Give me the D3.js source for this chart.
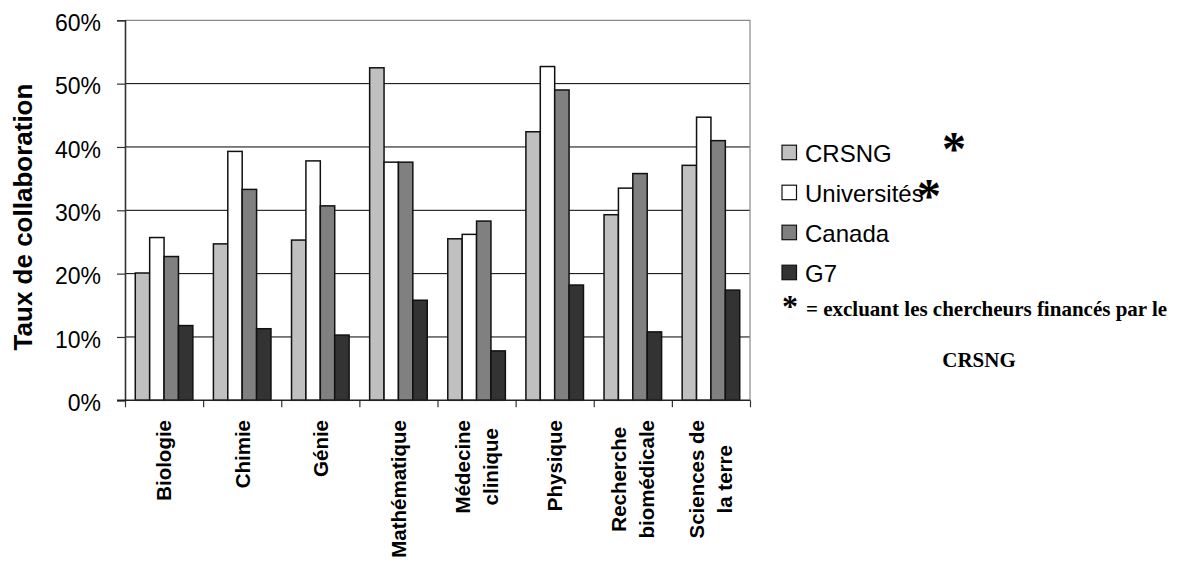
<!DOCTYPE html>
<html>
<head>
<meta charset="utf-8">
<script src="https://cdn.jsdelivr.net/npm/d3@7"></script>
<style>
  html, body { margin: 0; padding: 0; background: #fff; }
  svg { display: block; }
</style>
</head>
<body>
<svg id="chart" width="1189" height="563"></svg>
<script>
// ---- Data ----
const categories = ["Biologie", "Chimie", "Génie", "Mathématique", "Médecine clinique", "Physique", "Recherche biomédicale", "Sciences de la terre"];
const categoryLines = [["Biologie"], ["Chimie"], ["Génie"], ["Mathématique"], ["Médecine", "clinique"], ["Physique"], ["Recherche", "biomédicale"], ["Sciences de", "la terre"]];
const seriesNames = ["CRSNG", "Universités", "Canada", "G7"];
const crsng       = [20.1, 24.7, 25.3, 52.5, 25.5, 42.4, 29.3, 37.1];
const universites = [25.7, 39.3, 37.8, 37.6, 26.2, 52.7, 33.5, 44.7];
const canada      = [22.7, 33.3, 30.7, 37.6, 28.3, 49.0, 35.8, 41.0];
const g7          = [11.8, 11.3, 10.3, 15.8, 7.8, 18.2, 10.8, 17.4];
const yTicks = [0, 10, 20, 30, 40, 50, 60];
const yTitle = "Taux de collaboration";
const noteText = "= excluant les chercheurs financés par le";
const noteText2 = "CRSNG";

const seriesValues = [crsng, universites, canada, g7];
const seriesColors = ["#c0c0c0", "#ffffff", "#808080", "#333333"];

// ---- Layout ----
const plot = { left: 125, right: 750, top: 20.3, bottom: 400.3 };
const svg = d3.select("#chart");
svg.append("rect").attr("width", 1189).attr("height", 563).attr("fill", "#fff");

const x = d3.scaleBand().domain(categories).range([plot.left, plot.right])
  .paddingInner(0.263).paddingOuter(0.1315);
const xs = d3.scaleBand().domain(seriesNames).range([0, x.bandwidth()]);
const y = d3.scaleLinear().domain([0, 60]).range([plot.bottom, plot.top]);
const xb = d3.scaleLinear().domain([0, categories.length]).range([plot.left, plot.right]);

// gridlines
svg.append("g").selectAll("line").data(yTicks.filter(d => d > 0 && d < 60)).join("line")
  .attr("x1", plot.left).attr("x2", plot.right)
  .attr("y1", d => y(d)).attr("y2", d => y(d))
  .attr("stroke", "#000").attr("stroke-width", 1);

// plot border (top, right)
svg.append("path")
  .attr("d", `M${plot.left},${y(60)}H${plot.right}V${plot.bottom}`)
  .attr("fill", "none").attr("stroke", "#8a8a8a").attr("stroke-width", 1.2);

// bars
const groups = svg.append("g").selectAll("g").data(categories).join("g")
  .attr("transform", d => `translate(${x(d)},0)`);
groups.selectAll("rect").data((c, i) => seriesNames.map((s, j) => ({ s, v: seriesValues[j][i], c: seriesColors[j] })))
  .join("rect")
  .attr("x", d => xs(d.s))
  .attr("width", xs.bandwidth())
  .attr("y", d => y(d.v))
  .attr("height", d => y(0) - y(d.v))
  .attr("fill", d => d.c)
  .attr("stroke", "#111").attr("stroke-width", 1.5);

// y axis
const yAxis = svg.append("g").attr("transform", `translate(${plot.left},0)`)
  .call(d3.axisLeft(y).tickValues(yTicks).tickFormat(d => d + "%").tickSize(8).tickPadding(16));
yAxis.select(".domain").attr("stroke", "#333").attr("stroke-width", 1.6);
yAxis.selectAll(".tick line").attr("stroke", "#333").attr("stroke-width", 1.2);
yAxis.selectAll(".tick text")
  .attr("font-family", "'Liberation Sans', Arial, sans-serif")
  .attr("font-size", 23).attr("fill", "#000").attr("dy", "0.44em");

// x axis
const xAxis = svg.append("g").attr("transform", `translate(0,${plot.bottom})`)
  .call(d3.axisBottom(xb).tickValues(d3.range(0, categories.length + 1)).tickFormat("").tickSize(7));
xAxis.select(".domain").remove();
xAxis.append("line").attr("x1", plot.left - 8).attr("x2", plot.right).attr("y1", 0).attr("y2", 0)
  .attr("stroke", "#222").attr("stroke-width", 1.6);
xAxis.selectAll(".tick line").attr("stroke", "#333").attr("stroke-width", 1.2);

// x labels (rotated)
const labelTop = 420;
const lineGap = 28;
categories.forEach((c, i) => {
  const lines = categoryLines[i];
  const cx = x(c) + x.bandwidth() / 2;
  const g = svg.append("g").attr("transform", `translate(${cx},${labelTop}) rotate(-90)`);
  const texts = lines.map((ln, k) => g.append("text")
    .attr("font-family", "'Liberation Sans', Arial, sans-serif")
    .attr("font-weight", "bold").attr("font-size", 20.5).attr("fill", "#000")
    .attr("text-anchor", "middle")
    .attr("y", (k - (lines.length - 1) / 2) * lineGap + 7.3)
    .text(ln));
  const maxLen = d3.max(texts, t => t.node().getComputedTextLength());
  texts.forEach(t => t.attr("x", -maxLen / 2));
});

// y title
svg.append("text")
  .attr("transform", `translate(32,217) rotate(-90)`)
  .attr("text-anchor", "middle")
  .attr("font-family", "'Liberation Sans', Arial, sans-serif")
  .attr("font-weight", "bold").attr("font-size", 26).attr("fill", "#000")
  .text(yTitle);

// legend
const legend = svg.append("g");
seriesNames.forEach((s, i) => {
  const base = 161.7 + i * 40;
  legend.append("rect").attr("x", 782).attr("y", base - 16.5).attr("width", 14.5).attr("height", 14.5)
    .attr("fill", seriesColors[i]).attr("stroke", "#111").attr("stroke-width", 1.2);
  legend.append("text").attr("x", 805).attr("y", base)
    .attr("font-family", "'Liberation Sans', Arial, sans-serif")
    .attr("font-size", 24).attr("fill", "#000").text(s);
});

// asterisks
const serif = "'Liberation Serif', 'Times New Roman', serif";
svg.append("text").attr("x", 954).attr("y", 165).attr("text-anchor", "middle")
  .attr("font-family", serif).attr("font-weight", "bold").attr("font-size", 48).text("*");
svg.append("text").attr("x", 929).attr("y", 212).attr("text-anchor", "middle")
  .attr("font-family", serif).attr("font-weight", "bold").attr("font-size", 48).text("*");
svg.append("text").attr("x", 790).attr("y", 317).attr("text-anchor", "middle")
  .attr("font-family", serif).attr("font-weight", "bold").attr("font-size", 32).text("*");

// note
svg.append("text").attr("x", 806).attr("y", 316)
  .attr("font-family", serif).attr("font-weight", "bold").attr("font-size", 21).attr("fill", "#000")
  .text(noteText);
svg.append("text").attr("x", 979).attr("y", 366.5).attr("text-anchor", "middle")
  .attr("font-family", serif).attr("font-weight", "bold").attr("font-size", 21).attr("fill", "#000")
  .text(noteText2);
</script>
</body>
</html>
